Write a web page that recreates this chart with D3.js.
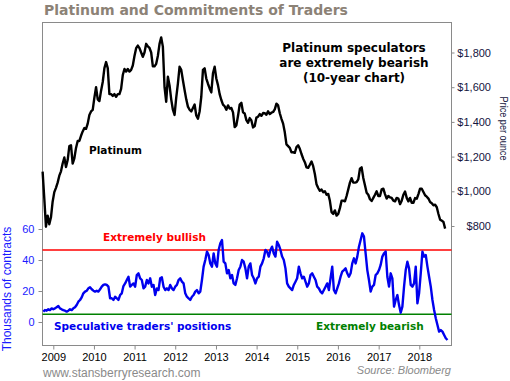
<!DOCTYPE html>
<html>
<head>
<meta charset="utf-8">
<script src="https://cdn.jsdelivr.net/npm/d3@7"></script>
<style>
html,body{margin:0;padding:0;background:#fff;}
svg{display:block;}
</style>
</head>
<body>
<svg id="chart" width="510" height="381"></svg>
<script>
// ---------- data ----------
const yearTicks = [2009, 2010, 2011, 2012, 2013, 2014, 2015, 2016, 2017, 2018];
const priceTicks = [800, 1000, 1200, 1400, 1600, 1800];
const cotTicks = [0, 20, 40, 60];
const bullishLevel = 46.5;
const bearishLevel = 5.0;

// Platinum price ($/oz), samples every 15 days starting 2008-09-27
const platinumStart = "2008-09-27";
const platinumStepDays = 15;
const platinum = [1113,960,796,860,810,850,940,995,1020,1050,1090,1115,1160,1195,1140,1180,1260,1265,1160,1190,
1250,1290,1290,1320,1345,1365,1360,1390,1440,1460,1469,1540,1600,1530,1520,1580,1630,1710,1745,1710,
1560,1560,1550,1560,1545,1560,1560,1590,1670,1705,1690,1705,1690,1700,1725,1780,1825,1840,1825,1800,
1775,1800,1850,1835,1826,1800,1720,1720,1735,1780,1850,1887,1834,1600,1516,1660,1610,1530,1470,1440,
1540,1620,1718,1700,1640,1584,1530,1488,1470,1460,1480,1500,1437,1418,1460,1545,1700,1709,1650,1620,
1593,1570,1680,1718,1650,1612,1560,1526,1500,1490,1470,1495,1477,1480,1455,1370,1380,1435,1500,1510,
1455,1448,1410,1395,1422,1408,1368,1376,1425,1430,1445,1435,1451,1450,1441,1461,1445,1453,1457,1472,
1505,1495,1450,1418,1390,1340,1270,1260,1250,1225,1225,1222,1255,1265,1245,1215,1188,1168,1138,1135,
1153,1172,1145,1100,1040,1019,1003,1010,995,1000,980,985,945,880,870,890,860,870,903,946,
946,942,973,1011,1050,1076,1050,1050,1053,1069,1130,1138,1077,1035,992,980,954,944,962,980,
1000,973,973,1011,1015,984,958,973,965,962,946,942,962,958,926,946,980,999,962,942,
962,934,934,961,957,984,1015,1015,996,977,969,958,938,931,919,923,908,869,836,831,
823,785];

// Speculative traders' net positions (thousands of contracts), every 15 days from 2008-10-03
const cotStart = "2008-10-03";
const cotStepDays = 15;
const cot = [6.7,7.7,7.3,8.2,7.7,8.8,8.2,8.8,9.5,10.3,8.8,8.2,7.7,7.3,6.7,7.3,8.2,7.7,8.8,9.5,
11.0,13.1,14.2,15.9,18.5,19.6,20.2,21.7,22.4,21.1,20.2,19.6,20.2,19.6,21.1,22.8,23.9,24.3,23.9,22.8,
15.3,15.3,14.2,16.3,15.3,14.2,17.4,18.5,23.2,24.9,27.1,29.2,22.8,23.9,24.9,22.8,30.3,31.4,28.2,27.1,
21.7,22.8,27.1,24.9,28.2,22.8,23.9,17.4,21.7,20.6,28.2,28.8,22.8,20.6,21.7,20.6,23.9,21.7,20.6,22.8,
23.9,27.1,28.2,26.0,24.9,18.5,16.3,15.3,14.2,16.3,17.4,19.6,20.6,18.5,19.6,27.1,35.7,40.0,45.4,43.2,
37.8,35.7,44.3,37.8,35.7,46.5,50.8,52.9,38.9,37.8,31.4,33.5,28.2,30.3,24.9,23.9,28.2,33.5,35.7,40.0,
38.9,34.6,28.2,35.7,37.8,30.3,28.2,24.9,28.2,29.2,35.7,37.8,41.1,46.5,45.4,42.2,46.5,48.6,44.3,42.2,
51.8,49.7,46.5,42.2,40.0,34.6,24.9,22.8,21.7,20.6,23.9,26.0,28.2,35.7,31.4,28.2,29.2,26.0,22.8,24.9,
30.3,31.4,29.2,27.1,22.8,21.7,19.6,18.5,20.6,22.8,24.9,20.6,28.2,35.7,20.6,18.5,21.7,24.9,29.2,32.5,
33.5,34.6,31.4,29.2,31.4,37.8,41.1,37.8,42.2,48.6,52.9,57.2,55.1,44.3,33.5,27.1,19.6,22.8,23.9,30.3,
31.4,33.5,36.8,42.2,44.3,45.4,29.2,22.8,31.4,28.2,9.9,14.2,17.4,10.9,6.0,9.9,22.8,33.5,38.9,34.6,
23.9,22.8,24.9,35.7,12.0,18.5,31.4,45.4,42.2,43.2,35.7,29.2,22.8,14.2,7.7,2.4,-1.9,-6.2,-5.2,-6.2,
-8.4,-10.5,-11.6];

// ---------- layout ----------
const svg = d3.select("#chart");
const frame = {left: 42.5, right: 451.5, top: 22.5, bottom: 345.5};

const parse = d3.timeParse("%Y-%m-%d");
const platStart = parse(platinumStart);
const cotStartD = parse(cotStart);
const platData = platinum.map((v, i) => ({date: d3.timeDay.offset(platStart, i * platinumStepDays), value: v}));
const cotData = cot.map((v, i) => ({date: d3.timeDay.offset(cotStartD, i * cotStepDays), value: v}));

const x = d3.scaleTime()
  .domain([new Date(2009, 0, 1), new Date(2018, 0, 1)])
  .range([53.3, 419.3]);
const yPrice = d3.scaleLinear().domain([800, 1800]).range([226, 52.5]);
const yCot = d3.scaleLinear().domain([0, 60]).range([322, 229]);

// title
svg.append("text")
  .attr("x", 44).attr("y", 15)
  .attr("font-family", "DejaVu Sans, Verdana, sans-serif")
  .attr("font-weight", "bold").attr("font-size", 14)
  .attr("fill", "#8c8276")
  .text("Platinum and Commitments of Traders");

// frame
svg.append("rect")
  .attr("x", frame.left).attr("y", frame.top)
  .attr("width", frame.right - frame.left).attr("height", frame.bottom - frame.top)
  .attr("fill", "none").attr("stroke", "#8a8a8a").attr("stroke-width", 1);

// bottom axis
const xAxis = d3.axisBottom(x)
  .tickValues(yearTicks.map(yv => new Date(yv, 0, 1)))
  .tickFormat(d3.timeFormat("%Y"))
  .tickSize(4).tickSizeOuter(0);
const gx = svg.append("g").attr("transform", `translate(0,${frame.bottom})`).call(xAxis);
gx.select(".domain").remove();
gx.selectAll(".tick line").attr("stroke", "#8a8a8a");
gx.selectAll(".tick text")
  .attr("font-family", "Liberation Sans, Arial, sans-serif").attr("font-size", 11)
  .attr("fill", "#000").attr("dy", null).attr("y", 15.5);

// right axis (price)
const yR = d3.axisRight(yPrice)
  .tickValues(priceTicks)
  .tickFormat(d3.format("$,"))
  .tickSize(3).tickSizeOuter(0);
const gr = svg.append("g").attr("transform", `translate(${frame.right},0)`).call(yR);
gr.select(".domain").remove();
gr.selectAll(".tick line").attr("stroke", "#8a8a8a");
gr.selectAll(".tick text")
  .attr("font-family", "Liberation Sans, Arial, sans-serif").attr("font-size", 11)
  .attr("fill", "#141440").attr("text-anchor", "end").attr("x", 39.5);

// left axis (contracts)
const yL = d3.axisLeft(yCot)
  .tickValues(cotTicks)
  .tickSize(4).tickSizeOuter(0);
const gl = svg.append("g").attr("transform", `translate(${frame.left},0)`).call(yL);
gl.select(".domain").remove();
gl.selectAll(".tick line").attr("stroke", "#8a8a8a");
gl.selectAll(".tick text")
  .attr("font-family", "Liberation Sans, Arial, sans-serif").attr("font-size", 11)
  .attr("fill", "#1a1aff").attr("x", -8);

// axis titles
svg.append("text")
  .attr("transform", "translate(499.5,128.5) rotate(90)")
  .attr("text-anchor", "middle")
  .attr("font-family", "Liberation Sans, Arial, sans-serif").attr("font-size", 10.5)
  .attr("textLength", 64).attr("lengthAdjust", "spacingAndGlyphs")
  .attr("fill", "#141440")
  .text("Price per ounce");
svg.append("text")
  .attr("transform", "translate(11,289) rotate(-90)")
  .attr("text-anchor", "middle")
  .attr("font-family", "Liberation Sans, Arial, sans-serif").attr("font-size", 12)
  .attr("fill", "#1a1aff")
  .text("Thousands of contracts");

// reference levels
svg.append("line")
  .attr("x1", frame.left).attr("x2", frame.right)
  .attr("y1", yCot(bullishLevel)).attr("y2", yCot(bullishLevel))
  .attr("stroke", "#ff0000").attr("stroke-width", 1.5);
svg.append("line")
  .attr("x1", frame.left).attr("x2", frame.right)
  .attr("y1", yCot(bearishLevel)).attr("y2", yCot(bearishLevel))
  .attr("stroke", "#008000").attr("stroke-width", 1.5);

// lines
const platLine = d3.line().x(d => x(d.date)).y(d => yPrice(d.value));
const cotLine = d3.line().x(d => x(d.date)).y(d => yCot(d.value));
svg.append("path").datum(platData)
  .attr("d", platLine).attr("fill", "none")
  .attr("stroke", "#000").attr("stroke-width", 2.4).attr("stroke-linejoin", "round");
svg.append("path").datum(cotData)
  .attr("d", cotLine).attr("fill", "none")
  .attr("stroke", "#0000ee").attr("stroke-width", 2.4).attr("stroke-linejoin", "round");

// annotations
const bold = "DejaVu Sans, Verdana, sans-serif";
const ann = svg.append("text")
  .attr("font-family", bold).attr("font-weight", "bold").attr("font-size", 12)
  .attr("fill", "#000").attr("text-anchor", "middle");
["Platinum speculators", "are extremely bearish", "(10-year chart)"].forEach((t, i) => {
  ann.append("tspan").attr("x", 354).attr("y", 52 + i * 15).text(t);
});
svg.append("text").attr("x", 89).attr("y", 154)
  .attr("font-family", bold).attr("font-weight", "bold").attr("font-size", 10.5)
  .attr("fill", "#000").text("Platinum");
svg.append("text").attr("x", 103).attr("y", 241)
  .attr("font-family", bold).attr("font-weight", "bold").attr("font-size", 10.5)
  .attr("fill", "#ff0000").text("Extremely bullish");
svg.append("text").attr("x", 54).attr("y", 330)
  .attr("font-family", bold).attr("font-weight", "bold").attr("font-size", 10.5)
  .attr("fill", "#0000ee").text("Speculative traders' positions");
svg.append("text").attr("x", 316).attr("y", 330)
  .attr("font-family", bold).attr("font-weight", "bold").attr("font-size", 10.5)
  .attr("fill", "#008000").text("Extremely bearish");

// footer
svg.append("text").attr("x", 43).attr("y", 377)
  .attr("font-family", "Liberation Sans, Arial, sans-serif").attr("font-size", 12)
  .attr("fill", "#8a8a8a").text("www.stansberryresearch.com");
svg.append("text").attr("x", 451).attr("y", 374).attr("text-anchor", "end")
  .attr("font-family", "Liberation Sans, Arial, sans-serif").attr("font-size", 11)
  .attr("font-style", "italic")
  .attr("fill", "#8a8a8a").text("Source: Bloomberg");
</script>
</body>
</html>
